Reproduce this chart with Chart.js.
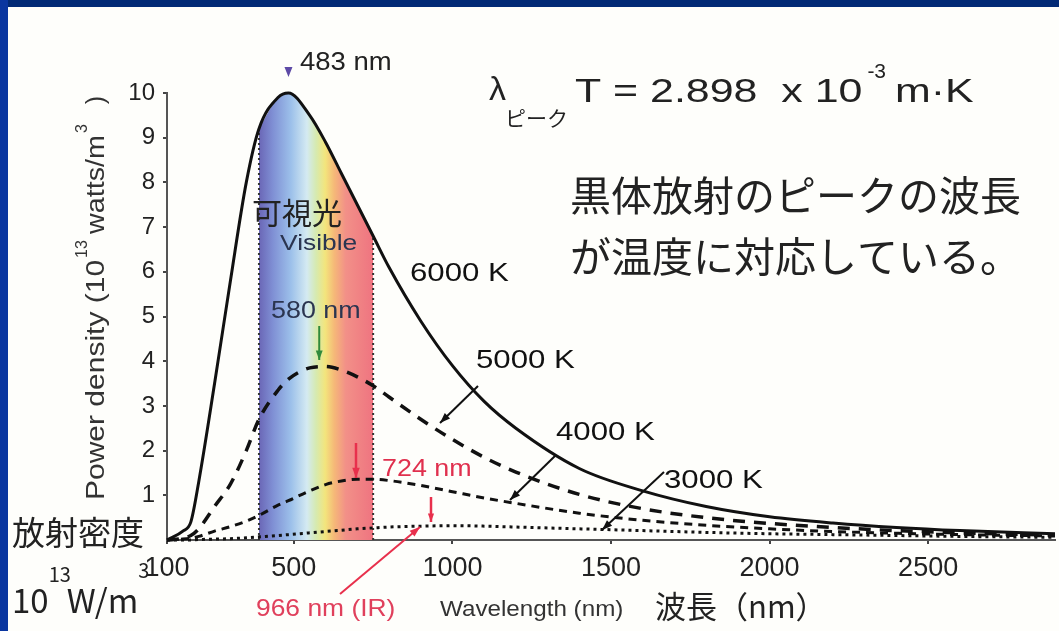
<!DOCTYPE html>
<html>
<head>
<meta charset="utf-8">
<script src="https://cdn.jsdelivr.net/npm/chart.js@4/dist/chart.umd.min.js"></script>
<style>
  html, body { margin: 0; padding: 0; background: #fefefb; overflow: hidden; }
  #wrap { position: relative; width: 1059px; height: 631px; }
  #chart { position: absolute; left: 0; top: 0; }
  .bar-top { position: absolute; left: 0; top: 0; width: 1059px; height: 7px; background: #022a76; }
  .bar-left { position: absolute; left: 0; top: 0; width: 8px; height: 631px; background: #0a36a0; }
</style>
</head>
<body>
<div id="wrap">
  <canvas id="chart" width="1059" height="631"></canvas>
  <div class="bar-top"></div>
  <div class="bar-left"></div>
</div>
<script>
// wavelength samples (nm) and power density (10^13 W/m^3)
const wavelengths = [100, 150, 175, 200, 250, 300, 350, 390, 450, 483, 550, 600, 650, 700, 750, 800, 900, 1000, 1100, 1200, 1400, 1600, 1800, 2000, 2200, 2400, 2600, 2900];
const power6000 = [0, 0.2, 0.4, 1.3, 3.5, 5.8, 8.0, 9.2, 9.9, 10.0, 9.5, 8.9, 8.2, 7.5, 6.8, 6.1, 4.9, 3.9, 3.1, 2.5, 1.6, 1.1, 0.75, 0.52, 0.38, 0.28, 0.21, 0.14];
const power5000 = [0, 0.04, 0.1, 0.25, 0.75, 1.25, 2.0, 2.7, 3.35, 3.6, 3.85, 3.88, 3.8, 3.65, 3.45, 3.2, 2.7, 2.25, 1.85, 1.52, 1.02, 0.7, 0.5, 0.37, 0.28, 0.21, 0.16, 0.11];
const power4000 = [0, 0.02, 0.04, 0.08, 0.2, 0.3, 0.42, 0.55, 0.78, 0.88, 1.1, 1.24, 1.32, 1.36, 1.36, 1.33, 1.22, 1.08, 0.94, 0.82, 0.6, 0.44, 0.33, 0.25, 0.19, 0.15, 0.12, 0.09];
const power3000 = [0, 0, 0, 0.01, 0.02, 0.03, 0.05, 0.07, 0.1, 0.12, 0.16, 0.19, 0.22, 0.25, 0.27, 0.29, 0.31, 0.32, 0.31, 0.29, 0.25, 0.21, 0.17, 0.14, 0.12, 0.1, 0.08, 0.06];
const visibleRange = [390, 750];
const xTicks = [100, 500, 1000, 1500, 2000, 2500];
const yTicks = [1, 2, 3, 4, 5, 6, 7, 8, 9, 10];

const LATIN = '"Liberation Sans", Arial, sans-serif';
const CJK = '"Noto Sans CJK JP", "Noto Sans", sans-serif';

function toPoints(values) {
  return wavelengths.map((w, i) => ({ x: w, y: values[i] }));
}

const bandPoints = toPoints(power6000).filter(p => p.x >= visibleRange[0] && p.x <= visibleRange[1]);
const edgeLeft = bandPoints[0];
const edgeRight = bandPoints[bandPoints.length - 1];

function rainbow(context) {
  const chart = context.chart;
  if (!chart.chartArea) return 'rgba(0,0,0,0)';
  const x0 = chart.scales.x.getPixelForValue(visibleRange[0]);
  const x1 = chart.scales.x.getPixelForValue(visibleRange[1]);
  const g = chart.ctx.createLinearGradient(x0, 0, x1, 0);
  g.addColorStop(0.0, '#6a66b6');
  g.addColorStop(0.12, '#7f8fd4');
  g.addColorStop(0.28, '#9cc0ea');
  g.addColorStop(0.42, '#d4eaf2');
  g.addColorStop(0.5, '#d6eab0');
  g.addColorStop(0.58, '#f3e57c');
  g.addColorStop(0.66, '#f5b878');
  g.addColorStop(0.76, '#f29088');
  g.addColorStop(1.0, '#ef7480');
  return g;
}

// draws a row of text pieces one after another (for superscripts), optionally rotated
function runs(c, x, y, parts, rotate) {
  c.save();
  c.translate(x, y);
  if (rotate) c.rotate(rotate);
  c.textBaseline = 'alphabetic';
  c.textAlign = 'left';
  let cur = 0;
  parts.forEach(p => {
    c.font = p.size + 'px ' + (p.family || LATIN);
    c.fillStyle = p.color || '#222';
    const sx = p.sx || 1;
    c.save();
    c.translate(cur + (p.gap || 0), p.dy || 0);
    c.scale(sx, 1);
    c.fillText(p.t, 0, 0);
    c.restore();
    cur += (p.gap || 0) + c.measureText(p.t).width * sx;
  });
  c.restore();
}

function text(c, str, x, y, size, color, opts = {}) {
  runs(c, x, y, [{ t: str, size, color, family: opts.family, sx: opts.sx }], opts.rotate);
}

function arrow(c, x1, y1, x2, y2, color, width, head) {
  c.save();
  c.strokeStyle = color;
  c.fillStyle = color;
  c.lineWidth = width;
  c.beginPath();
  c.moveTo(x1, y1);
  c.lineTo(x2, y2);
  c.stroke();
  const a = Math.atan2(y2 - y1, x2 - x1);
  c.beginPath();
  c.moveTo(x2, y2);
  c.lineTo(x2 - head * Math.cos(a - 0.35), y2 - head * Math.sin(a - 0.35));
  c.lineTo(x2 - head * Math.cos(a + 0.35), y2 - head * Math.sin(a + 0.35));
  c.closePath();
  c.fill();
  c.restore();
}

const annotations = {
  id: 'annotations',
  afterDatasetsDraw(chart) {
    const c = chart.ctx;
    const sx = chart.scales.x;

    // peak marker for 6000 K
    const px = sx.getPixelForValue(483);
    c.save();
    c.fillStyle = '#5d4aa6';
    c.beginPath();
    c.moveTo(px - 4, 67);
    c.lineTo(px + 4, 67);
    c.lineTo(px, 77);
    c.closePath();
    c.fill();
    c.restore();
    text(c, '483 nm', 300, 70, 25, '#222', { sx: 1.1 });

    // Wien's law
    text(c, 'λ', 489, 100, 34, '#222');
    text(c, 'ピーク', 505, 126, 21, '#222', { family: CJK });
    runs(c, 575, 102, [
      { t: 'T = 2.898  x 10', size: 33, sx: 1.3 },
      { t: '-3', size: 21, dy: -24, gap: 5 },
      { t: 'm·K', size: 33, sx: 1.3, gap: 9 }
    ]);

    text(c, '黒体放射のピークの波長', 570, 211, 41, '#222', { family: CJK });
    text(c, 'が温度に対応している。', 570, 272, 41, '#222', { family: CJK });

    // visible band labels
    text(c, '可視光', 252, 224, 30, '#222', { family: CJK });
    text(c, 'Visible', 280, 250, 22, '#2b3550', { sx: 1.2 });
    text(c, '580 nm', 271, 318, 24, '#2b3550', { sx: 1.12 });
    arrow(c, sx.getPixelForValue(580), 326, sx.getPixelForValue(580), 360, '#2f8a3c', 2, 10);

    text(c, '6000 K', 410, 281, 26, '#111', { sx: 1.2 });
    text(c, '5000 K', 476, 368, 26, '#111', { sx: 1.2 });
    arrow(c, 478, 386, 440, 423, '#111', 2, 11);
    text(c, '4000 K', 556, 440, 26, '#111', { sx: 1.2 });
    arrow(c, 556, 455, 510, 500, '#111', 2, 11);
    text(c, '3000 K', 664, 488, 26, '#111', { sx: 1.2 });
    arrow(c, 664, 472, 602, 530, '#111', 2, 11);

    text(c, '724 nm', 382, 476, 24, '#e0304e', { sx: 1.12 });
    arrow(c, 356, 443, 356, 478, '#e8304c', 2.5, 11);
    arrow(c, 431, 497, 431, 522, '#e8304c', 2.5, 9);
    arrow(c, 340, 594, 420, 527, '#e8304c', 2, 11);

    // y axis title, rotated
    runs(c, 104, 500, [
      { t: 'Power density (10', size: 25, sx: 1.2, color: '#333' },
      { t: '13', size: 16, dy: -17, gap: 2, color: '#333' },
      { t: 'watts/m', size: 25, sx: 1.15, gap: 6, color: '#333' },
      { t: '3', size: 16, dy: -17, gap: 2, color: '#333' },
      { t: ')', size: 25, gap: 20, color: '#333' }
    ], -Math.PI / 2);

    text(c, '放射密度', 12, 545, 33, '#222', { family: CJK });
    runs(c, 12, 613, [
      { t: '10', size: 33, family: CJK },
      { t: '13', size: 20, family: CJK, dy: -31 },
      { t: 'W/m', size: 33, family: CJK, gap: -4 },
      { t: '3', size: 20, family: CJK, dy: -35 }
    ]);

    text(c, '966 nm (IR)', 256, 616, 24, '#e0405c', { sx: 1.1 });
    text(c, 'Wavelength (nm)', 440, 616, 22, '#333', { sx: 1.1 });
    text(c, '波長（nm）', 655, 618, 31, '#222', { family: CJK });
  }
};

const line = (values, dash, width) => ({
  data: toPoints(values),
  borderColor: '#111',
  borderWidth: width,
  borderDash: dash,
  pointRadius: 0,
  cubicInterpolationMode: 'monotone',
  fill: false,
  clip: false
});

new Chart(document.getElementById('chart').getContext('2d'), {
  type: 'line',
  data: {
    datasets: [
      line(power6000, [], 3),
      line(power5000, [12, 9], 3.5),
      line(power4000, [8, 6], 3),
      line(power3000, [3, 4], 3),
      {
        data: [{ x: edgeLeft.x, y: 0 }, edgeLeft],
        borderColor: '#333', borderWidth: 2, borderDash: [2, 3], pointRadius: 0, fill: false
      },
      {
        data: [{ x: edgeRight.x, y: 0 }, edgeRight],
        borderColor: '#333', borderWidth: 2, borderDash: [2, 3], pointRadius: 0, fill: false
      },
      {
        data: bandPoints,
        borderWidth: 0,
        pointRadius: 0,
        cubicInterpolationMode: 'monotone',
        backgroundColor: rainbow,
        fill: 'origin'
      }
    ]
  },
  options: {
    responsive: false,
    animation: false,
    devicePixelRatio: 1,
    layout: { padding: { top: 93, right: 4, left: 0, bottom: 0 } },
    plugins: { legend: { display: false }, tooltip: { enabled: false } },
    scales: {
      x: {
        type: 'linear',
        min: 100,
        max: 2900,
        afterBuildTicks: s => { s.ticks = xTicks.map(v => ({ value: v })); },
        afterFit: s => { s.height = 91; },
        ticks: { color: '#222', font: { family: LATIN, size: 27 }, padding: 8, maxRotation: 0, autoSkip: false, callback: v => String(v) },
        grid: { display: true, drawOnChartArea: false, drawTicks: true, tickLength: 4, color: '#444', lineWidth: 2 },
        border: { display: true, color: '#555', width: 2 }
      },
      y: {
        type: 'linear',
        min: 0,
        max: 10,
        afterBuildTicks: s => { s.ticks = yTicks.map(v => ({ value: v })); },
        afterFit: s => { s.width = 167; },
        ticks: { color: '#222', font: { family: LATIN, size: 24 }, padding: 8, callback: v => String(v) },
        grid: { display: true, drawOnChartArea: false, drawTicks: true, tickLength: 4, color: '#444', lineWidth: 2 },
        border: { display: true, color: '#555', width: 2 }
      }
    }
  },
  plugins: [annotations]
});
</script>
</body>
</html>
